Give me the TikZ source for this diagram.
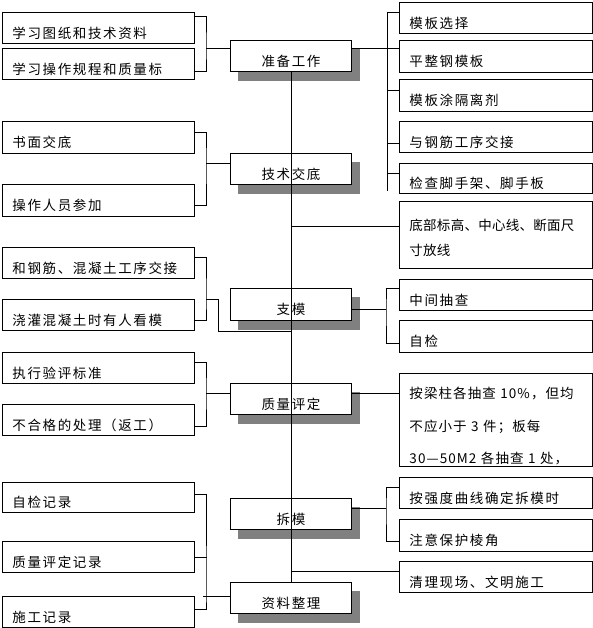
\documentclass[tikz,border=0pt]{standalone}
\usepackage{fontspec}
\setmainfont{Noto Sans CJK SC}[LetterSpace=12]
\usepackage{tikz}
\usetikzlibrary{calc}
\definecolor{qcgray}{RGB}{128,128,128}
\tikzset{
  qc box/.style={draw=black, fill=white, line width=0.9pt, anchor=north west,
    inner xsep=10pt, inner ysep=0pt, font=\fontsize{13.5}{16}\selectfont},
  qc one/.style={qc box, minimum height=31pt, text height=22.6pt, text depth=1.6pt},
  qc left/.style={qc one, text width=172pt, align=left},
  qc right/.style={qc one, text width=173pt, align=left},
  qc main/.style={qc one, text width=101pt, align=center},
  qc shade/.style={fill=qcgray},
  qc link/.style={draw=black, line width=0.7pt},
}

\begin{document}
\begin{tikzpicture}[x=1pt, y=-1pt]
 \useasboundingbox (0,0) rectangle (593,628);
 % main steps
 \node[qc main] (c1) at (230,40) {准备工作};
 \node[qc main] (c2) at (230,153) {技术交底};
 \node[qc main, minimum height=32pt] (c3) at (230,288) {支模};
 \node[qc main] (c4) at (230,383) {质量评定};
 \node[qc main] (c5) at (230,498) {拆模};
 \node[qc main] (c6) at (230,582) {资料整理};
 % shadows
 \foreach \c in {c1,c2,c3,c4,c5,c6} {
   \fill[qc shade] ($(\c.north east)+(0.5,9)$) rectangle ($(\c.south east)+(8,9)$);
   \fill[qc shade] ($(\c.south west)+(8,0.5)$) rectangle ($(\c.south east)+(8,9)$);
 }
 % left items
 \node[qc left] (l1) at (2,12) {学习图纸和技术资料};
 \node[qc left] (l2) at (2,48) {学习操作规程和质量标};
 \node[qc left, minimum height=32pt] (l3) at (2,121) {书面交底};
 \node[qc left, minimum height=32pt] (l4) at (2,184) {操作人员参加};
 \node[qc left] (l5) at (2,247) {和钢筋、混凝土工序交接};
 \node[qc left] (l6) at (2,299) {浇灌混凝土时有人看模};
 \node[qc left] (l7) at (2,352) {执行验评标准};
 \node[qc left] (l8) at (2,404) {不合格的处理（返工）};
 \node[qc left, minimum height=30pt] (l9) at (2,482) {自检记录};
 \node[qc left] (l10) at (2,541) {质量评定记录};
 \node[qc left] (l11) at (2,596) {施工记录};
 % right items
 \node[qc right] (r1) at (399,2) {模板选择};
 \node[qc right, minimum height=32pt] (r2) at (399,40) {平整钢模板};
 \node[qc right, minimum height=32pt] (r3) at (399,79) {模板涂隔离剂};
 \node[qc right] (r4) at (399,121) {与钢筋工序交接};
 \node[qc right, minimum height=30pt] (r5) at (399,163) {检查脚手架、脚手板};
 \node[qc box, text width=173pt, align=left, minimum height=67pt, text height=18pt,
   font=\fontsize{13.5}{25}\selectfont\addfontfeatures{LetterSpace=2}] (r6) at (399,201)
   {底部标高、中心线、断面尺\\寸放线};
 \node[qc right] (r7) at (399,279) {中间抽查};
 \node[qc right, minimum height=32pt] (r8) at (399,320) {自检};
 \node[qc box, text width=173pt, align=left, minimum height=93pt, text height=24pt,
   font=\fontsize{13.5}{32.5}\selectfont\addfontfeatures{LetterSpace=8}] (r9) at (399,373)
   {按梁柱各抽查~10\%，但均\\不应小于~3~件；板每\\30—50M2~各抽查~1~处，};
 \node[qc right] (r10) at (399,477) {按强度曲线确定拆模时};
 \node[qc right, minimum height=32pt] (r11) at (399,519) {注意保护棱角};
 \node[qc right] (r12) at (399,561) {清理现场、文明施工};

 % spine
 \draw[qc link] (c1.south) -- (c6.north);
 % bracket points
 \coordinate (b1) at (206,48);
 \coordinate (b2) at (206,163);
 \coordinate (b3) at (206,299);
 \coordinate (b4) at (206,393);
 \coordinate (b5) at (206,596);
 \coordinate (a1) at (387,48);
 \coordinate (a3) at (386,309);
 \coordinate (a5) at (386,508);

 % 准备工作
 \draw[qc link] ([yshift=-4pt]l1.north east) -| (b1) |- ([yshift=9pt]l2.south east);
 \draw[qc link] (b1) -- (b1 -| c1.west);
 \draw[qc link] (a1 -| c1.east) -- (a1 -| r2.west);
 \draw[qc link] ([yshift=-10pt]r1.north west) -- ++(-12,0) -- ($(r5.south west)+(-12,-3)$);
 \foreach \r/\d in {r3/11, r4/22, r5/10}
   \draw[qc link] ([yshift=-\d pt]\r.north west) -- ++(-12,0);
 % 技术交底
 \draw[qc link] ([yshift=-11pt]l3.north east) -| (b2) |- ([yshift=12pt]l4.south east);
 \draw[qc link] (b2) -- (b2 -| c2.west);
 \coordinate (j6) at ([yshift=-25pt]r6.north west);
 \draw[qc link] (j6) -- (j6 -| c2.south);
 % 支模
 \draw[qc link] ([yshift=-10pt]l5.north east) -| (b3) |- ([yshift=11pt]l6.south east);
 \draw[qc link] (b3) -- ++(12,0) |- (l6.south -| c3.south);
 \draw[qc link] (a3 -| c3.east) -- (a3);
 \draw[qc link] ([yshift=-9pt]r7.north west) -| (a3) |- ([yshift=10pt]r8.south west);
 % 质量评定
 \draw[qc link] ([yshift=-10pt]l7.north east) -| (b4) |- ([yshift=10pt]l8.south east);
 \draw[qc link] (b4) -- (b4 -| c4.west);
 \draw[qc link] (b4 -| c4.east) -- (b4 -| r9.west);
 % 拆模, 资料整理
 \draw[qc link] ([yshift=-12pt]l9.north east) -| (b5) |- ([yshift=19pt]l11.south east);
 \draw[qc link] ([yshift=-16pt]l10.north east) -- ++(12,0);
 \draw[qc link] ([xshift=-3pt]b5) -- (b5 -| c6.west);
 \draw[qc link] (a5 -| c5.east) -- (a5);
 \draw[qc link] ([yshift=-10pt]r10.north west) -| (a5) |- ([yshift=11pt]r11.south west);
 \coordinate (j12) at ([yshift=-10pt]r12.north west);
 \draw[qc link] (j12) -- (j12 -| c5.south);
\end{tikzpicture}
\end{document}
